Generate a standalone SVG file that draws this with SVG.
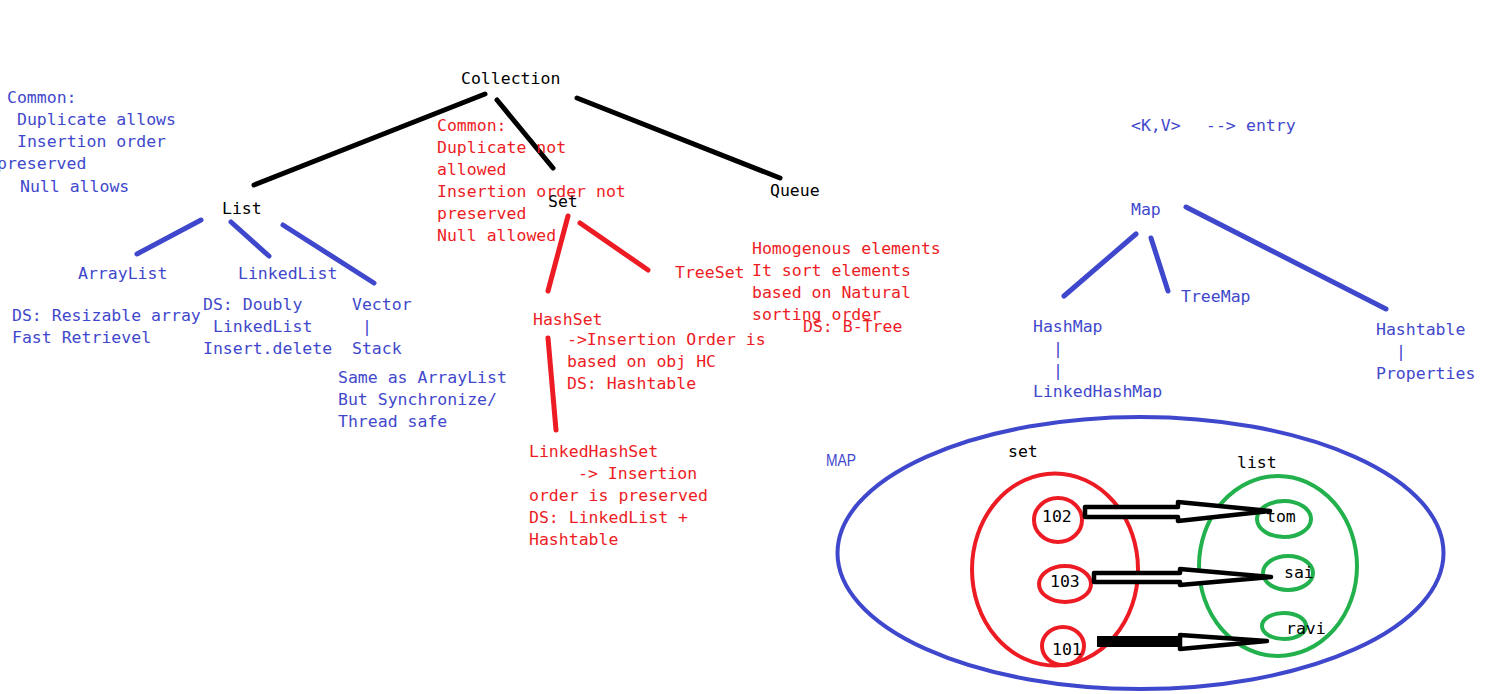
<svg xmlns="http://www.w3.org/2000/svg" width="1499" height="694" viewBox="0 0 1499 694">
<style>
text{font-family:"DejaVu Sans Mono","Liberation Mono",monospace;font-size:16.5px;white-space:pre}
.k{fill:#000}
.b{fill:#3F48CC}
.r{fill:#ED1C24}
.ln{stroke-width:5;stroke-linecap:round;fill:none}
.lk{stroke:#000}
.lb{stroke:#3F48CC}
.lr{stroke:#ED1C24}
.ell{fill:none;stroke-width:4}
.arrow{fill:#fff;stroke:#000;stroke-width:4.5;stroke-linejoin:round}
.sans{font-family:"Liberation Sans",Arial,sans-serif;font-size:16.5px}
</style>
<defs>
<clipPath id="clipLHM"><rect x="1000" y="370" width="200" height="28"/></clipPath>
</defs>
<rect width="1499" height="694" fill="#fff"/>

<g id="connectors">
<line class="ln lk" x1="485" y1="94" x2="254" y2="185"/>
<line class="ln lk" x1="497" y1="100" x2="553" y2="168"/>
<line class="ln lk" x1="577" y1="98" x2="780" y2="178"/>
<line class="ln lb" x1="201" y1="220" x2="137" y2="254"/>
<line class="ln lb" x1="231" y1="222" x2="269" y2="256"/>
<line class="ln lb" x1="283" y1="225" x2="374" y2="283"/>
<line class="ln lr" x1="568" y1="216" x2="548" y2="291"/>
<line class="ln lr" x1="580" y1="223" x2="648" y2="270"/>
<line class="ln lr" x1="548" y1="338" x2="556" y2="430"/>
<line class="ln lb" x1="1136" y1="234" x2="1064" y2="296"/>
<line class="ln lb" x1="1151" y1="238" x2="1168" y2="291"/>
<line class="ln lb" x1="1186" y1="207" x2="1386" y2="309"/>
</g>

<g id="collection"><text class="k" x="461" y="84">Collection</text></g>

<g id="list-common">
<text class="b" x="7" y="103">Common:</text>
<text class="b" x="17" y="125">Duplicate allows</text>
<text class="b" x="17" y="147">Insertion order</text>
<text class="b" x="-3" y="169">preserved</text>
<text class="b" x="20" y="192">Null allows</text>
</g>

<g id="list"><text class="k" x="222" y="214">List</text></g>

<g id="set-common">
<text class="r" x="437" y="131">Common:</text>
<text class="r" x="437" y="153">Duplicate not</text>
<text class="r" x="437" y="175">allowed</text>
<text class="r" x="437" y="197">Insertion order not</text>
<text class="r" x="437" y="219">preserved</text>
<text class="r" x="437" y="241">Null allowed</text>
</g>

<g id="set"><text class="k" x="548" y="207">Set</text></g>
<g id="queue"><text class="k" x="770" y="196">Queue</text></g>

<g id="arraylist">
<text class="b" x="78" y="279">ArrayList</text>
<text class="b" x="12" y="321">DS: Resizable array</text>
<text class="b" x="12" y="343">Fast Retrievel</text>
</g>

<g id="linkedlist">
<text class="b" x="238" y="279">LinkedList</text>
<text class="b" x="203" y="310">DS: Doubly</text>
<text class="b" x="213" y="332">LinkedList</text>
<text class="b" x="203" y="354">Insert.delete</text>
</g>

<g id="vector">
<text class="b" x="352" y="310">Vector</text>
<text class="b" x="362" y="332">|</text>
<text class="b" x="352" y="354">Stack</text>
<text class="b" x="338" y="383">Same as ArrayList</text>
<text class="b" x="338" y="405">But Synchronize/</text>
<text class="b" x="338" y="427">Thread safe</text>
</g>

<g id="hashset">
<text class="r" x="533" y="325">HashSet</text>
<text class="r" x="567" y="345">-&gt;Insertion Order is</text>
<text class="r" x="567" y="367">based on obj HC</text>
<text class="r" x="567" y="389">DS: Hashtable</text>
</g>

<g id="treeset">
<text class="r" x="675" y="278">TreeSet</text>
<text class="r" x="752" y="254">Homogenous elements</text>
<text class="r" x="752" y="276">It sort elements</text>
<text class="r" x="752" y="298">based on Natural</text>
<text class="r" x="752" y="320">sorting order</text>
<text class="r" x="803" y="332">DS: B-Tree</text>
</g>

<g id="linkedhashset">
<text class="r" x="529" y="457">LinkedHashSet</text>
<text class="r" x="578" y="479">-&gt; Insertion</text>
<text class="r" x="529" y="501">order is preserved</text>
<text class="r" x="529" y="523">DS: LinkedList +</text>
<text class="r" x="529" y="545">Hashtable</text>
</g>

<g id="entry">
<text class="b" y="131"><tspan x="1131">&lt;K,V&gt;</tspan><tspan x="1206">--&gt;</tspan><tspan x="1246">entry</tspan></text>
</g>

<g id="map"><text class="b" x="1131" y="215">Map</text></g>
<g id="treemap"><text class="b" x="1181" y="302">TreeMap</text></g>
<g id="hashmap">
<text class="b" x="1033" y="332">HashMap</text>
<text class="b" x="1053" y="354">|</text>
<text class="b" x="1053" y="376">|</text>
<text class="b" x="1033" y="397" clip-path="url(#clipLHM)">LinkedHashMap</text>
</g>
<g id="hashtable">
<text class="b" x="1376" y="335">Hashtable</text>
<text class="b" x="1396" y="357">|</text>
<text class="b" x="1376" y="379">Properties</text>
</g>

<g id="map-diagram">
<ellipse class="ell" cx="1140.5" cy="553" rx="303" ry="136" stroke="#3F48CC" stroke-width="5"/>
<text class="b sans" x="826" y="466" textLength="30" lengthAdjust="spacingAndGlyphs">MAP</text>
<ellipse class="ell" cx="1055" cy="569.5" rx="83" ry="96" stroke="#ED1C24"/>
<ellipse class="ell" cx="1058" cy="520" rx="24" ry="22" stroke="#ED1C24"/>
<ellipse class="ell" cx="1065" cy="584" rx="26" ry="18" stroke="#ED1C24"/>
<ellipse class="ell" cx="1063" cy="646" rx="21" ry="19" stroke="#ED1C24"/>
<text class="k" x="1008" y="457">set</text>
<text class="k" x="1042" y="522">102</text>
<text class="k" x="1050" y="587">103</text>
<text class="k" x="1052" y="655">101</text>
<ellipse class="ell" cx="1278" cy="566" rx="79" ry="90" stroke="#22B14C"/>
<ellipse class="ell" cx="1284" cy="519" rx="27" ry="18" stroke="#22B14C"/>
<ellipse class="ell" cx="1288" cy="573" rx="25" ry="17" stroke="#22B14C"/>
<ellipse class="ell" cx="1284" cy="626" rx="22" ry="13" stroke="#22B14C"/>
<text class="k" x="1237" y="468">list</text>
<text class="k" x="1266" y="522">tom</text>
<text class="k" x="1284" y="578">sai</text>
<text class="k" x="1286" y="634">ravi</text>
<polygon class="arrow" points="1085,507 1178,507 1178,502 1270,511 1178,521 1178,517 1085,517"/>
<polygon class="arrow" points="1094,573 1180,573 1180,569 1271,577 1180,585 1180,582 1094,582"/>
<rect x="1097" y="636" width="84" height="11" fill="#000"/>
<polygon class="arrow" points="1180,637 1180,635 1267,641 1180,649 1180,647"/>
</g>
</svg>
